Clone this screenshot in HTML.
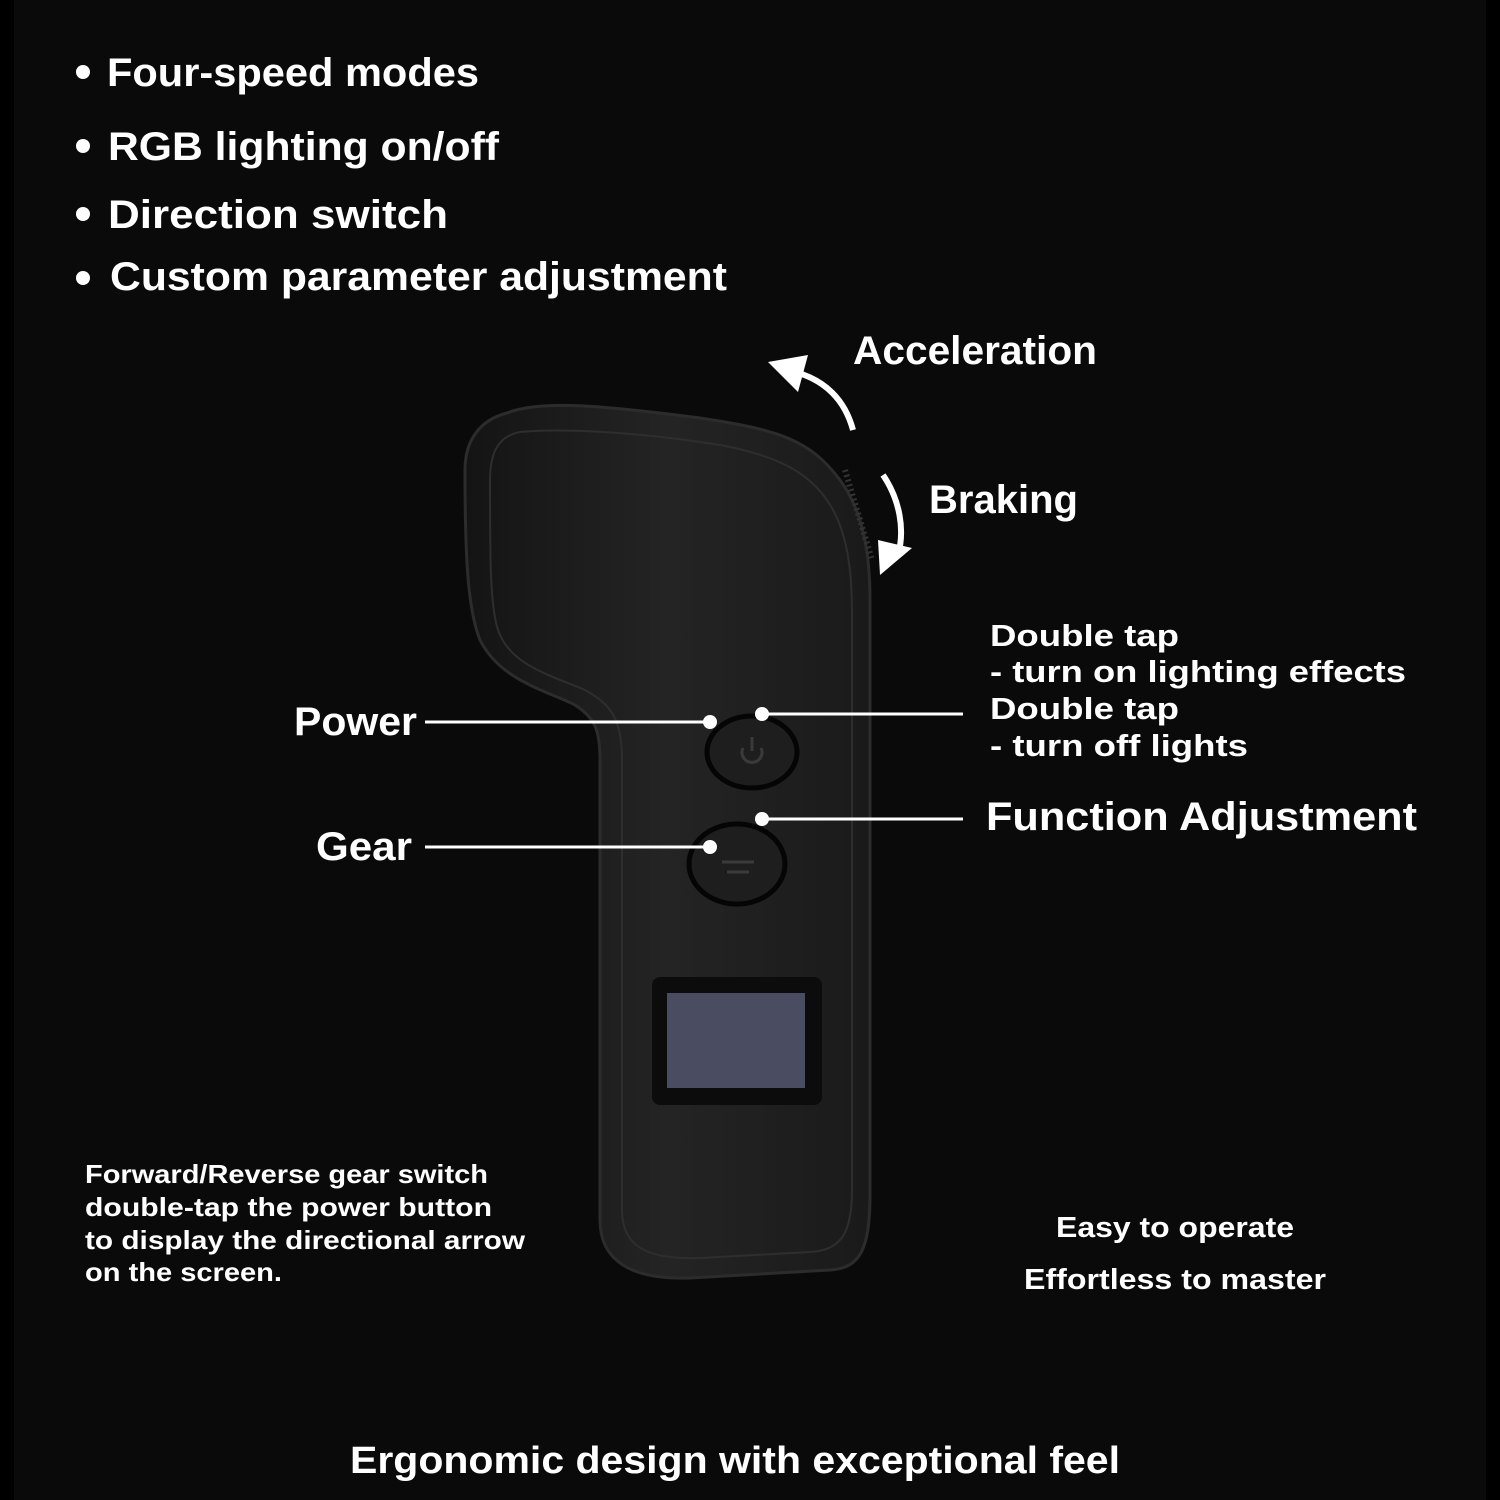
<!DOCTYPE html>
<html><head><style>
html,body{margin:0;padding:0;background:#000;}
svg{display:block;}
text{font-family:"Liberation Sans",sans-serif;fill:#fff;}
</style></head><body>
<svg width="1500" height="1500" viewBox="0 0 1500 1500" xmlns="http://www.w3.org/2000/svg">
<defs>
<linearGradient id="g" x1="0" y1="0" x2="1" y2="0">
<stop offset="0" stop-color="#141414"/><stop offset="0.5" stop-color="#242424"/><stop offset="1" stop-color="#1a1a1a"/>
</linearGradient>
</defs>
<rect width="1500" height="1500" fill="#000"/>
<rect x="14" y="0" width="1472" height="1500" fill="#0a0a0a"/>

<!-- device -->
<path d="M507,413 C540,400 600,405 700,418 C780,430 810,440 840,480 C862,510 870,550 870,600 L870,1194 C870,1250 860,1268 830,1270 L690,1278 C630,1280 600,1260 600,1220 L600,760 C600,730 595,718 575,705 C545,690 500,680 480,640 C468,610 465,560 465,470 C465,440 480,420 507,413 Z" fill="url(#g)" stroke="#2c2c2c" stroke-width="3"/>
<path d="M520,432 C560,428 640,432 720,445 C790,458 820,480 838,520 C850,550 852,580 852,620 L852,1190 C852,1235 840,1250 810,1252 L700,1258 C645,1260 622,1245 622,1210 L622,760 C622,720 612,705 585,690 C550,675 510,665 498,630 C490,605 490,560 490,480 C490,450 500,436 520,432 Z" fill="none" stroke="#2e2e2e" stroke-width="2"/>
<!-- knurl -->
<path d="M845,470 L872,560" stroke="#333" stroke-width="6" stroke-dasharray="2 3"/>

<!-- buttons -->
<ellipse cx="752" cy="752" rx="45" ry="36" fill="#1e1e1e" stroke="#050505" stroke-width="5"/>
<path d="M743,748 A10,10 0 1,0 761,748" fill="none" stroke="#3a3a3a" stroke-width="3"/>
<line x1="752" y1="737" x2="752" y2="751" stroke="#3a3a3a" stroke-width="3"/>
<ellipse cx="737" cy="864" rx="48" ry="40" fill="#1e1e1e" stroke="#050505" stroke-width="5"/>
<line x1="722" y1="862" x2="754" y2="862" stroke="#3a3a3a" stroke-width="3"/>
<line x1="727" y1="872" x2="749" y2="872" stroke="#3a3a3a" stroke-width="3"/>

<!-- screen -->
<rect x="652" y="977" width="170" height="128" rx="8" fill="#0c0c0c"/>
<rect x="667" y="993" width="138" height="95" fill="#4a4c62"/>

<!-- arrows -->
<path d="M853,430 C845,400 825,380 795,372" fill="none" stroke="#fff" stroke-width="6"/>
<polygon points="768,362 808,355 798,392" fill="#fff"/>
<path d="M883,475 C900,500 905,530 898,555" fill="none" stroke="#fff" stroke-width="6"/>
<polygon points="880,575 912,548 878,540" fill="#fff"/>

<!-- callouts -->
<g stroke="#fff" stroke-width="3">
<line x1="425" y1="722" x2="710" y2="722"/>
<line x1="425" y1="847" x2="710" y2="847"/>
<line x1="762" y1="714" x2="963" y2="714"/>
<line x1="762" y1="819" x2="963" y2="819"/>
</g>
<g fill="#fff">
<circle cx="710" cy="722" r="7"/><circle cx="710" cy="847" r="7"/>
<circle cx="762" cy="714" r="7"/><circle cx="762" cy="819" r="7"/>
</g>

<!-- bullets -->
<g fill="#fff">
<circle cx="83" cy="72" r="7"/><circle cx="83" cy="146" r="7"/>
<circle cx="83" cy="214" r="7"/><circle cx="83" cy="278" r="7"/>
</g>
<g font-size="40" font-weight="bold">
<text x="107" y="86" textLength="372" lengthAdjust="spacingAndGlyphs">Four-speed modes</text>
<text x="108" y="160" textLength="391" lengthAdjust="spacingAndGlyphs">RGB lighting on/off</text>
<text x="108" y="228" textLength="340" lengthAdjust="spacingAndGlyphs">Direction switch</text>
<text x="110" y="290" textLength="617" lengthAdjust="spacingAndGlyphs">Custom parameter adjustment</text>
<text x="853" y="364" textLength="244" lengthAdjust="spacingAndGlyphs">Acceleration</text>
<text x="929" y="513" textLength="149" lengthAdjust="spacingAndGlyphs">Braking</text>
<text x="294" y="735" textLength="123" lengthAdjust="spacingAndGlyphs">Power</text>
<text x="316" y="860" textLength="96" lengthAdjust="spacingAndGlyphs">Gear</text>
<text x="986" y="830" textLength="431" lengthAdjust="spacingAndGlyphs">Function Adjustment</text>
</g>
<g font-size="31" font-weight="bold">
<text x="990" y="646" textLength="189" lengthAdjust="spacingAndGlyphs">Double tap</text>
<text x="990" y="682" textLength="416" lengthAdjust="spacingAndGlyphs">- turn on lighting effects</text>
<text x="990" y="719" textLength="189" lengthAdjust="spacingAndGlyphs">Double tap</text>
<text x="990" y="756" textLength="258" lengthAdjust="spacingAndGlyphs">- turn off lights</text>
</g>
<g font-size="26" font-weight="bold">
<text x="85" y="1183" textLength="403" lengthAdjust="spacingAndGlyphs">Forward/Reverse gear switch</text>
<text x="85" y="1216" textLength="407" lengthAdjust="spacingAndGlyphs">double-tap the power button</text>
<text x="85" y="1249" textLength="440" lengthAdjust="spacingAndGlyphs">to display the directional arrow</text>
<text x="85" y="1281" textLength="197" lengthAdjust="spacingAndGlyphs">on the screen.</text>
</g>
<g font-size="29" font-weight="bold">
<text x="1056" y="1237" textLength="238" lengthAdjust="spacingAndGlyphs">Easy to operate</text>
<text x="1024" y="1289" textLength="302" lengthAdjust="spacingAndGlyphs">Effortless to master</text>
</g>
<text x="350" y="1473" font-size="38" font-weight="bold" textLength="770" lengthAdjust="spacingAndGlyphs">Ergonomic design with exceptional feel</text>
</svg>
</body></html>
